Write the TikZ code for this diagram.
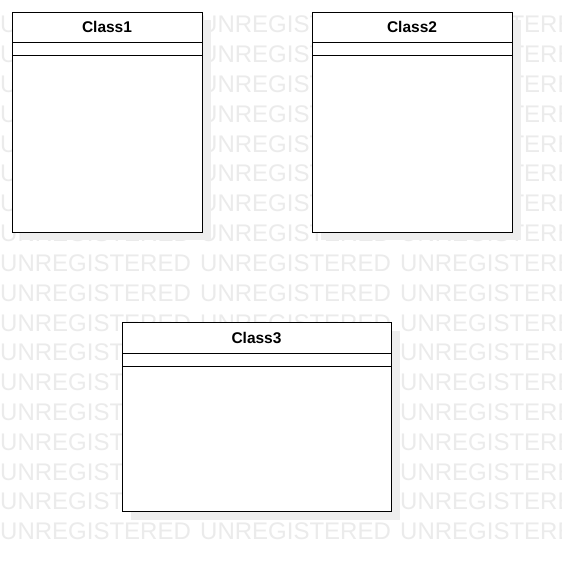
\documentclass[tikz,border=0pt]{standalone}
\usepackage{fontspec}
\setmainfont{Liberation Sans}
\usetikzlibrary{shadows}
\definecolor{wmgray}{HTML}{EBEBEB}
\definecolor{shadowgray}{HTML}{EEEEEE}
\tikzset{
  watermark/.style={anchor=base west, inner sep=0pt, text=wmgray,
    font=\fontsize{24}{24}\selectfont},
  classbox/.style={draw=black, line width=1pt, fill=white, anchor=north west,
    inner sep=0pt,
    drop shadow={shadow xshift=8pt, shadow yshift=-8pt, fill=shadowgray, opacity=1}},
  classtitle/.style={anchor=base, inner sep=0pt, font=\fontsize{15.5}{16}\selectfont\bfseries},
  divider/.style={draw=black, line width=1pt}
}
\begin{document}
\begin{tikzpicture}[x=1pt,y=-1pt]
\useasboundingbox (0,0) rectangle (562,561);
\fill[white] (0,0) rectangle (562,561);
% watermark
\foreach \r in {0,...,17}{
  \foreach \c in {0,1,2}{
    \node[watermark] (wm-\r-\c) at (200*\c, 33+29.8*\r) {UNREGISTERED};
  }
}
% Class1
\node[classbox, minimum width=190pt, minimum height=220pt] (c1) at (12,12) {};
\node[classtitle] (c1t) at (107,33) {Class1};
\draw[divider] ([yshift=-31pt]c1.north west) -- ([yshift=-31pt]c1.north east);
\draw[divider] ([yshift=-44pt]c1.north west) -- ([yshift=-44pt]c1.north east);
% Class2
\node[classbox, minimum width=200pt, minimum height=220pt] (c2) at (312,12) {};
\node[classtitle] (c2t) at (412,33) {Class2};
\draw[divider] ([yshift=-31pt]c2.north west) -- ([yshift=-31pt]c2.north east);
\draw[divider] ([yshift=-44pt]c2.north west) -- ([yshift=-44pt]c2.north east);
% Class3
\node[classbox, minimum width=269pt, minimum height=189pt] (c3) at (122,322) {};
\node[classtitle] (c3t) at (256.5,343) {Class3};
\draw[divider] ([yshift=-31pt]c3.north west) -- ([yshift=-31pt]c3.north east);
\draw[divider] ([yshift=-44pt]c3.north west) -- ([yshift=-44pt]c3.north east);
\end{tikzpicture}
\end{document}
